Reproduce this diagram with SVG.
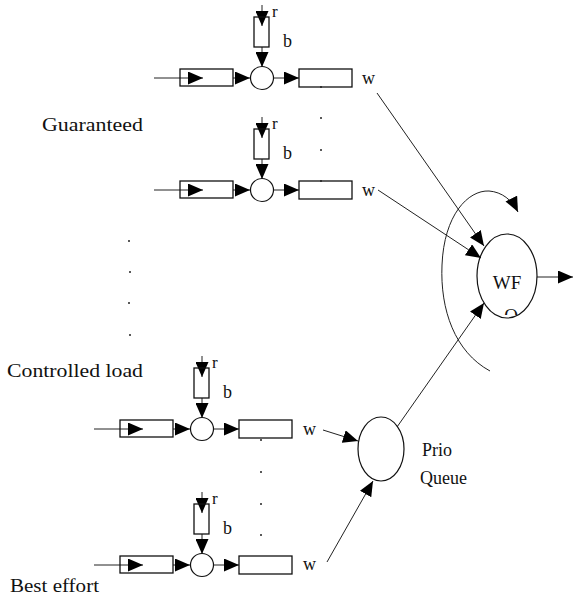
<svg xmlns="http://www.w3.org/2000/svg" width="574" height="601" viewBox="0 0 574 601">
<style>
.bx{fill:none;stroke:#111;stroke-width:1.3}
.nd{fill:#fff;stroke:#111;stroke-width:1.2}
.ln{fill:none;stroke:#222;stroke-width:1}
.t{font-family:"Liberation Serif",serif;fill:#111}
.lb{font-size:18px}
.sm{font-size:17px}
.dot{fill:#222}
</style>
<defs>
<marker id="ah" viewBox="0 0 15 13" refX="15" refY="6.5" markerWidth="15" markerHeight="13" orient="auto" markerUnits="userSpaceOnUse"><path d="M0,0 L15,6.5 L0,13 Z" fill="#000"/></marker>
<clipPath id="qclip"><rect x="480" y="300" width="60" height="15"/></clipPath>
</defs>
<rect width="574" height="601" fill="#fff"/>

<g id="connectors">
<!-- unit 1 cx=262 cy=78 -->
<line class="ln" x1="154" y1="78" x2="203" y2="78" marker-end="url(#ah)"/>
<line class="ln" x1="233" y1="78" x2="250" y2="78" marker-end="url(#ah)"/>
<line class="ln" x1="273" y1="78" x2="299" y2="78" marker-end="url(#ah)"/>
<line class="ln" x1="262" y1="5" x2="262" y2="26" marker-end="url(#ah)"/>
<line class="ln" x1="262" y1="47" x2="262" y2="67" marker-end="url(#ah)"/>
<!-- unit 2 cx=262 cy=190 -->
<line class="ln" x1="154" y1="190" x2="203" y2="190" marker-end="url(#ah)"/>
<line class="ln" x1="233" y1="190" x2="250" y2="190" marker-end="url(#ah)"/>
<line class="ln" x1="273" y1="190" x2="299" y2="190" marker-end="url(#ah)"/>
<line class="ln" x1="262" y1="117" x2="262" y2="138" marker-end="url(#ah)"/>
<line class="ln" x1="262" y1="159" x2="262" y2="179" marker-end="url(#ah)"/>
<!-- unit 3 cx=202 cy=429 -->
<line class="ln" x1="94" y1="429" x2="143" y2="429" marker-end="url(#ah)"/>
<line class="ln" x1="173" y1="429" x2="190" y2="429" marker-end="url(#ah)"/>
<line class="ln" x1="213" y1="429" x2="239" y2="429" marker-end="url(#ah)"/>
<line class="ln" x1="202" y1="356" x2="202" y2="377" marker-end="url(#ah)"/>
<line class="ln" x1="202" y1="398" x2="202" y2="418" marker-end="url(#ah)"/>
<!-- unit 4 cx=202 cy=565 -->
<line class="ln" x1="94" y1="565" x2="143" y2="565" marker-end="url(#ah)"/>
<line class="ln" x1="173" y1="565" x2="190" y2="565" marker-end="url(#ah)"/>
<line class="ln" x1="213" y1="565" x2="239" y2="565" marker-end="url(#ah)"/>
<line class="ln" x1="202" y1="492" x2="202" y2="513" marker-end="url(#ah)"/>
<line class="ln" x1="202" y1="534" x2="202" y2="554" marker-end="url(#ah)"/>
<!-- to schedulers -->
<line class="ln" x1="377" y1="93" x2="484" y2="246" marker-end="url(#ah)"/>
<line class="ln" x1="378" y1="190" x2="481" y2="258" marker-end="url(#ah)"/>
<line class="ln" x1="323" y1="430" x2="358" y2="441" marker-end="url(#ah)"/>
<line class="ln" x1="327" y1="562" x2="373" y2="481" marker-end="url(#ah)"/>
<line class="ln" x1="397" y1="427" x2="484" y2="303" marker-end="url(#ah)"/>
<line class="ln" x1="537" y1="277" x2="573" y2="277" marker-end="url(#ah)"/>
<path class="ln" d="M490,371 C455,352 440,310 442,265 C444,215 468,190 489,191 C502,192 512,200 518,212" marker-end="url(#ah)"/>
</g>

<g id="unit-guaranteed-1">
<rect class="bx" x="180" y="69" width="53" height="17"/>
<rect class="bx" x="254" y="17" width="15" height="30"/>
<circle class="nd" cx="262" cy="78" r="11.5"/>
<rect class="bx" x="299" y="69" width="53" height="18"/>
<text class="t sm" x="272" y="17">r</text>
<text class="t lb" x="283" y="47">b</text>
<text class="t lb" x="362" y="84">w</text>
</g>

<g id="unit-guaranteed-2">
<rect class="bx" x="180" y="181" width="53" height="17"/>
<rect class="bx" x="254" y="129" width="15" height="30"/>
<circle class="nd" cx="262" cy="190" r="11.5"/>
<rect class="bx" x="299" y="181" width="53" height="18"/>
<text class="t sm" x="272" y="129">r</text>
<text class="t lb" x="283" y="159">b</text>
<text class="t lb" x="362" y="196">w</text>
</g>

<g id="unit-controlled">
<rect class="bx" x="120" y="420" width="53" height="17"/>
<rect class="bx" x="194" y="368" width="15" height="30"/>
<circle class="nd" cx="202" cy="429" r="11.5"/>
<rect class="bx" x="239" y="420" width="53" height="18"/>
<text class="t sm" x="212" y="368">r</text>
<text class="t lb" x="223" y="398">b</text>
<text class="t lb" x="303" y="435">w</text>
</g>

<g id="unit-best-effort">
<rect class="bx" x="120" y="556" width="53" height="17"/>
<rect class="bx" x="194" y="504" width="15" height="30"/>
<circle class="nd" cx="202" cy="565" r="11.5"/>
<rect class="bx" x="239" y="556" width="53" height="18"/>
<text class="t sm" x="212" y="504">r</text>
<text class="t lb" x="223" y="534">b</text>
<text class="t lb" x="303" y="570">w</text>
</g>

<g id="prio-queue">
<ellipse class="nd" cx="381" cy="449" rx="23" ry="32" style="fill:none"/>
<text class="t lb" x="422" y="456">Prio</text>
<text class="t lb" x="420" y="484">Queue</text>
</g>

<g id="wfq">
<ellipse class="nd" cx="507" cy="276" rx="30" ry="42" style="fill:none"/>
<text class="t" x="507" y="289" font-size="19" text-anchor="middle">WF</text>
<text class="t" x="511" y="322" font-size="19" text-anchor="middle" clip-path="url(#qclip)">Q</text>
</g>

<g id="labels">
<text class="t lb" x="42" y="131" textLength="101" lengthAdjust="spacingAndGlyphs">Guaranteed</text>
<text class="t lb" x="7" y="377" textLength="136" lengthAdjust="spacingAndGlyphs">Controlled load</text>
<text class="t lb" x="10" y="592" textLength="89" lengthAdjust="spacingAndGlyphs">Best effort</text>
</g>

<g id="dots">
<circle class="dot" cx="321" cy="87" r="1"/>
<circle class="dot" cx="321" cy="118" r="1"/>
<circle class="dot" cx="321" cy="150" r="1"/>
<circle class="dot" cx="321" cy="181" r="1"/>
<circle class="dot" cx="129" cy="241" r="1"/>
<circle class="dot" cx="130" cy="272" r="1"/>
<circle class="dot" cx="129" cy="303" r="1"/>
<circle class="dot" cx="130" cy="335" r="1"/>
<circle class="dot" cx="261" cy="440" r="1"/>
<circle class="dot" cx="261" cy="472" r="1"/>
<circle class="dot" cx="261" cy="504" r="1"/>
<circle class="dot" cx="261" cy="535" r="1"/>
</g>
</svg>
